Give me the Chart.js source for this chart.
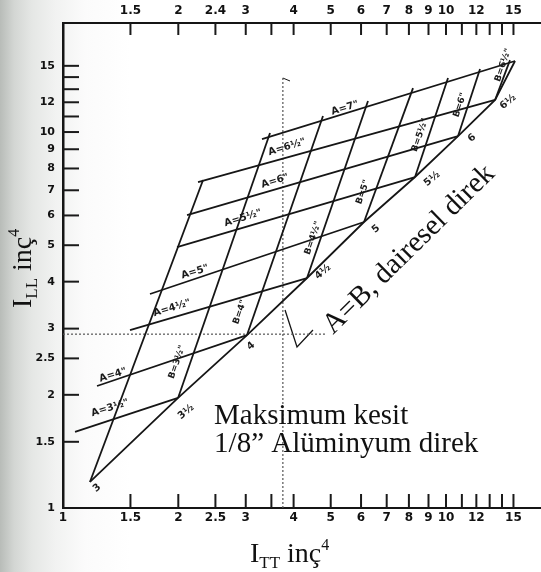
<!DOCTYPE html>
<html><head><meta charset="utf-8">
<script src="https://cdn.jsdelivr.net/npm/chart.js@4.4.1/dist/chart.umd.min.js"></script>
<style>
html,body{margin:0;padding:0;}
body{width:541px;height:572px;overflow:hidden;background:linear-gradient(to right,#b8bcb8 0px,#d3d6d3 14px,#e5e7e5 32px,#f1f2f1 55px,#fbfbfb 85px,#ffffff 130px);}
canvas{display:block;}
</style></head><body>
<canvas id="c" width="541" height="572"></canvas>
<script>
// ---- axis ticks ----
const xTickValues   = [1, 1.5, 2, 2.5, 3, 3.5, 4, 5, 6, 7, 8, 9, 10, 11, 12, 13, 14, 15];
const xBottomLabels = ['1','1.5','2','2.5','3','','4','5','6','7','8','9','10','','12','','','15'];
const xTopLabels    = ['','1.5','2','2.4','3','','4','5','6','7','8','9','10','','12','','','15'];
const yTickValues   = [1, 1.5, 2, 2.5, 3, 4, 5, 6, 7, 8, 9, 10, 11, 12, 13, 14, 15];
const yLabels       = ['1','1.5','2','2.5','3','4','5','6','7','8','9','10','','12','','','15'];

// ---- lines of constant A (I_TT, I_LL end points) ----
const aSizes   = ['3½','4','4½','5','5½','6','6½','7'];
const aStartTT = [1.075, 1.227, 1.496, 1.687, 1.985, 2.108, 2.252, 3.308];
const aStartLL = [1.593, 2.111, 2.974, 3.709, 4.945, 6.016, 7.362, 9.581];
const aEndTT   = [1.997, 3.023, 4.336, 6.108, 8.300, 10.75, 13.43, 15.14];
const aEndLL   = [1.962, 2.884, 4.090, 5.764, 7.592, 9.758, 12.17, 15.45];

// ---- lines of constant B ----
const bSizes   = ['3','3½','4','4½','5','5½','6','6½'];
const bStartTT = [1.176, 1.997, 3.023, 4.336, 6.108, 8.300, 10.75, 13.43];
const bStartLL = [1.173, 1.962, 2.884, 4.090, 5.764, 7.592, 9.758, 12.17];
const bEndTT   = [2.321, 3.471, 4.773, 6.256, 8.200, 10.12, 12.27, 14.69];
const bEndLL   = [7.453, 9.94, 11.03, 12.09, 13.09, 13.92, 14.71, 15.54];

// ---- A = B (round strut) line ----
const roundTT = [1.176, 1.997, 3.023, 4.336, 6.108, 8.300, 10.75, 13.43, 15.14];
const roundLL = [1.173, 1.962, 2.884, 4.090, 5.764, 7.592, 9.758, 12.17, 15.45];
const roundNames = ['3','3½','4','4½','5','5½','6','6½'];

// ---- example (max section) reference lines ----
const exampleTT = 3.75, exampleTop = 13.92, hookTT = 3.915, hookLL = 13.67;
const exampleLL = 2.9, exampleRightTT = 4.83;
const pointerTT = [3.799, 4.083, 4.494];
const pointerLL = [3.363, 2.681, 2.974];

// ---- label anchors (data units) ----
const aLabelTT = [1.327, 1.351, 1.926, 2.211, 2.951, 3.577, 3.846, 5.448];
const aLabelLL = [1.845, 2.258, 3.403, 4.244, 5.906, 7.408, 9.123, 11.58];
const bLabelSizes = ['3½','4','4½','5','5½','6','6½'];
const bLabelTT = [1.985, 2.898, 4.494, 6.071, 8.552, 10.88, 14.09];
const bLabelLL = [2.445, 3.321, 5.225, 6.924, 9.818, 11.80, 15.07];
const rLabelTT = [1.227, 2.095, 3.097, 4.773, 6.565, 9.193, 11.69, 14.52];
const rLabelLL = [1.130, 1.800, 2.697, 4.244, 5.521, 7.499, 9.639, 12.02];

const noteLines = ['Maksimum kesit', '1/8\u201D Alüminyum direk'];
const noteTT = 2.48, noteLL = [1.673, 1.409];
const roundNote = 'A=B, dairesel direk', roundNoteTT = 5.07, roundNoteLL = 2.884;

// ---- datasets ----
const ink = '#161616';
const solid = {showLine:true, pointRadius:0, borderColor:ink, borderWidth:1.8, fill:false, tension:0, xAxisID:'x', yAxisID:'y'};
const dotted = {showLine:true, pointRadius:0, borderColor:'#555', borderWidth:1.2, borderDash:[2,2], fill:false, tension:0, xAxisID:'x', yAxisID:'y'};
const datasets = [];
aSizes.forEach((s,i)=>datasets.push({label:'A='+s, data:[{x:aStartTT[i],y:aStartLL[i]},{x:aEndTT[i],y:aEndLL[i]}], ...solid}));
bSizes.forEach((s,i)=>datasets.push({label:'B='+s, data:[{x:bStartTT[i],y:bStartLL[i]},{x:bEndTT[i],y:bEndLL[i]}], ...solid}));
datasets.push({label:'A=B', data:roundTT.map((v,i)=>({x:v,y:roundLL[i]})), ...solid});
datasets.push({label:'example I_TT', data:[{x:exampleTT,y:1},{x:exampleTT,y:exampleTop}], ...dotted});
datasets.push({label:'hook', data:[{x:exampleTT,y:exampleTop},{x:hookTT,y:hookLL}], ...solid, borderWidth:1});
datasets.push({label:'example I_LL', data:[{x:1,y:exampleLL},{x:exampleRightTT,y:exampleLL}], ...dotted});
datasets.push({label:'pointer', data:pointerTT.map((v,i)=>({x:v,y:pointerLL[i]})), ...solid, borderWidth:1.3});

const tickFont = {family:'DejaVu Sans', size:12, weight:'bold'};
const serif = '"Liberation Serif", "Times New Roman", serif';

function rich(ctx, parts, x0, y0, ang){
  ctx.save(); ctx.translate(x0,y0); ctx.rotate(ang); ctx.textAlign='left'; ctx.textBaseline='alphabetic';
  let cx=0;
  parts.forEach(p=>{ctx.font=p.f; ctx.fillText(p.t,cx,p.dy); cx+=ctx.measureText(p.t).width;});
  ctx.restore();
}
function tag(ctx, xs, ys, t, xv, yv, deg, font, align){
  ctx.save(); ctx.translate(xs.getPixelForValue(xv), ys.getPixelForValue(yv)); ctx.rotate(deg*Math.PI/180);
  ctx.font=font; ctx.textAlign=align||'center'; ctx.textBaseline='middle'; ctx.fillText(t,0,0); ctx.restore();
}

const nomoPlugin = {
  id:'nomo',
  afterDraw(chart){
    const {ctx, chartArea:ca} = chart; const xs=chart.scales.x, x2=chart.scales.x2, ys=chart.scales.y;
    ctx.save();
    ctx.strokeStyle='#1a1a1a'; ctx.lineWidth=2;
    xTickValues.forEach(v=>{ if(v===1) return;
      const pb=xs.getPixelForValue(v); ctx.beginPath(); ctx.moveTo(pb,ca.bottom); ctx.lineTo(pb,ca.bottom-14); ctx.stroke();
      const pt=x2.getPixelForValue(v); ctx.beginPath(); ctx.moveTo(pt,ca.top); ctx.lineTo(pt,ca.top+12); ctx.stroke();
    });
    yTickValues.forEach(v=>{ if(v===1) return;
      const py=ys.getPixelForValue(v); ctx.beginPath(); ctx.moveTo(ca.left,py); ctx.lineTo(ca.left+16,py); ctx.stroke();
    });
    ctx.fillStyle='#1a1a1a';
    const small='bold 10px "DejaVu Sans"';
    aSizes.forEach((s,i)=>tag(ctx,xs,ys,'A='+s+'"',aLabelTT[i],aLabelLL[i],-17,small));
    bLabelSizes.forEach((s,i)=>tag(ctx,xs,ys,'B='+s+'"',bLabelTT[i],bLabelLL[i],-71,'bold 9px "DejaVu Sans"'));
    roundNames.forEach((s,i)=>tag(ctx,xs,ys,s,rLabelTT[i],rLabelLL[i],-40,small));
    ctx.fillStyle='#111';
    ctx.font='29px '+serif; ctx.textAlign='left'; ctx.textBaseline='alphabetic';
    noteLines.forEach((t,i)=>ctx.fillText(t, xs.getPixelForValue(noteTT), ys.getPixelForValue(noteLL[i])));
    ctx.save(); ctx.translate(xs.getPixelForValue(roundNoteTT), ys.getPixelForValue(roundNoteLL)); ctx.rotate(-44.5*Math.PI/180);
    ctx.font='29px '+serif; ctx.fillText(roundNote,0,0); ctx.restore();
    const big='28px '+serif, sub='17px '+serif, sup='16px '+serif;
    rich(ctx,[{t:'I',f:big,dy:0},{t:'TT',f:sub,dy:6},{t:' inç',f:big,dy:0},{t:'4',f:sup,dy:-12}], ca.left+187, ca.bottom+54, 0);
    rich(ctx,[{t:'I',f:big,dy:0},{t:'LL',f:sub,dy:6},{t:' inç',f:big,dy:0},{t:'4',f:sup,dy:-12}], 31, 308, -Math.PI/2);
    ctx.restore();
  }
};

const axisCommon = {
  type:'logarithmic', grid:{display:false, drawTicks:false},
  border:{display:true, width:2, color:'#151515'}
};

new Chart(document.getElementById('c'), {
  type:'scatter',
  data:{datasets},
  options:{
    responsive:false, animation:false, devicePixelRatio:1,
    layout:{padding:0},
    plugins:{legend:{display:false}, tooltip:{enabled:false}},
    scales:{
      x:{...axisCommon, position:'bottom', min:1, max:17.7,
        afterBuildTicks:s=>{s.ticks=xTickValues.map(v=>({value:v}));},
        afterFit:s=>{s.height=64;},
        ticks:{autoSkip:false, maxRotation:0, minRotation:0, padding:3, color:'#111', font:tickFont, callback:(v,i)=>xBottomLabels[i]}},
      x2:{...axisCommon, axis:'x', position:'top', min:1, max:17.7,
        afterBuildTicks:s=>{s.ticks=xTickValues.map(v=>({value:v}));},
        afterFit:s=>{s.height=23;},
        ticks:{autoSkip:false, maxRotation:0, minRotation:0, padding:5, color:'#111', font:tickFont, callback:(v,i)=>xTopLabels[i]}},
      y:{...axisCommon, position:'left', min:1, max:19.5, border:{display:true, width:2.5, color:'#151515'},
        afterBuildTicks:s=>{s.ticks=yTickValues.map(v=>({value:v}));},
        afterFit:s=>{s.width=63;},
        ticks:{autoSkip:false, padding:8, color:'#111', font:{family:'DejaVu Sans', size:11, weight:'bold'}, callback:(v,i)=>yLabels[i]}}
    }
  },
  plugins:[nomoPlugin]
});
</script></body></html>
